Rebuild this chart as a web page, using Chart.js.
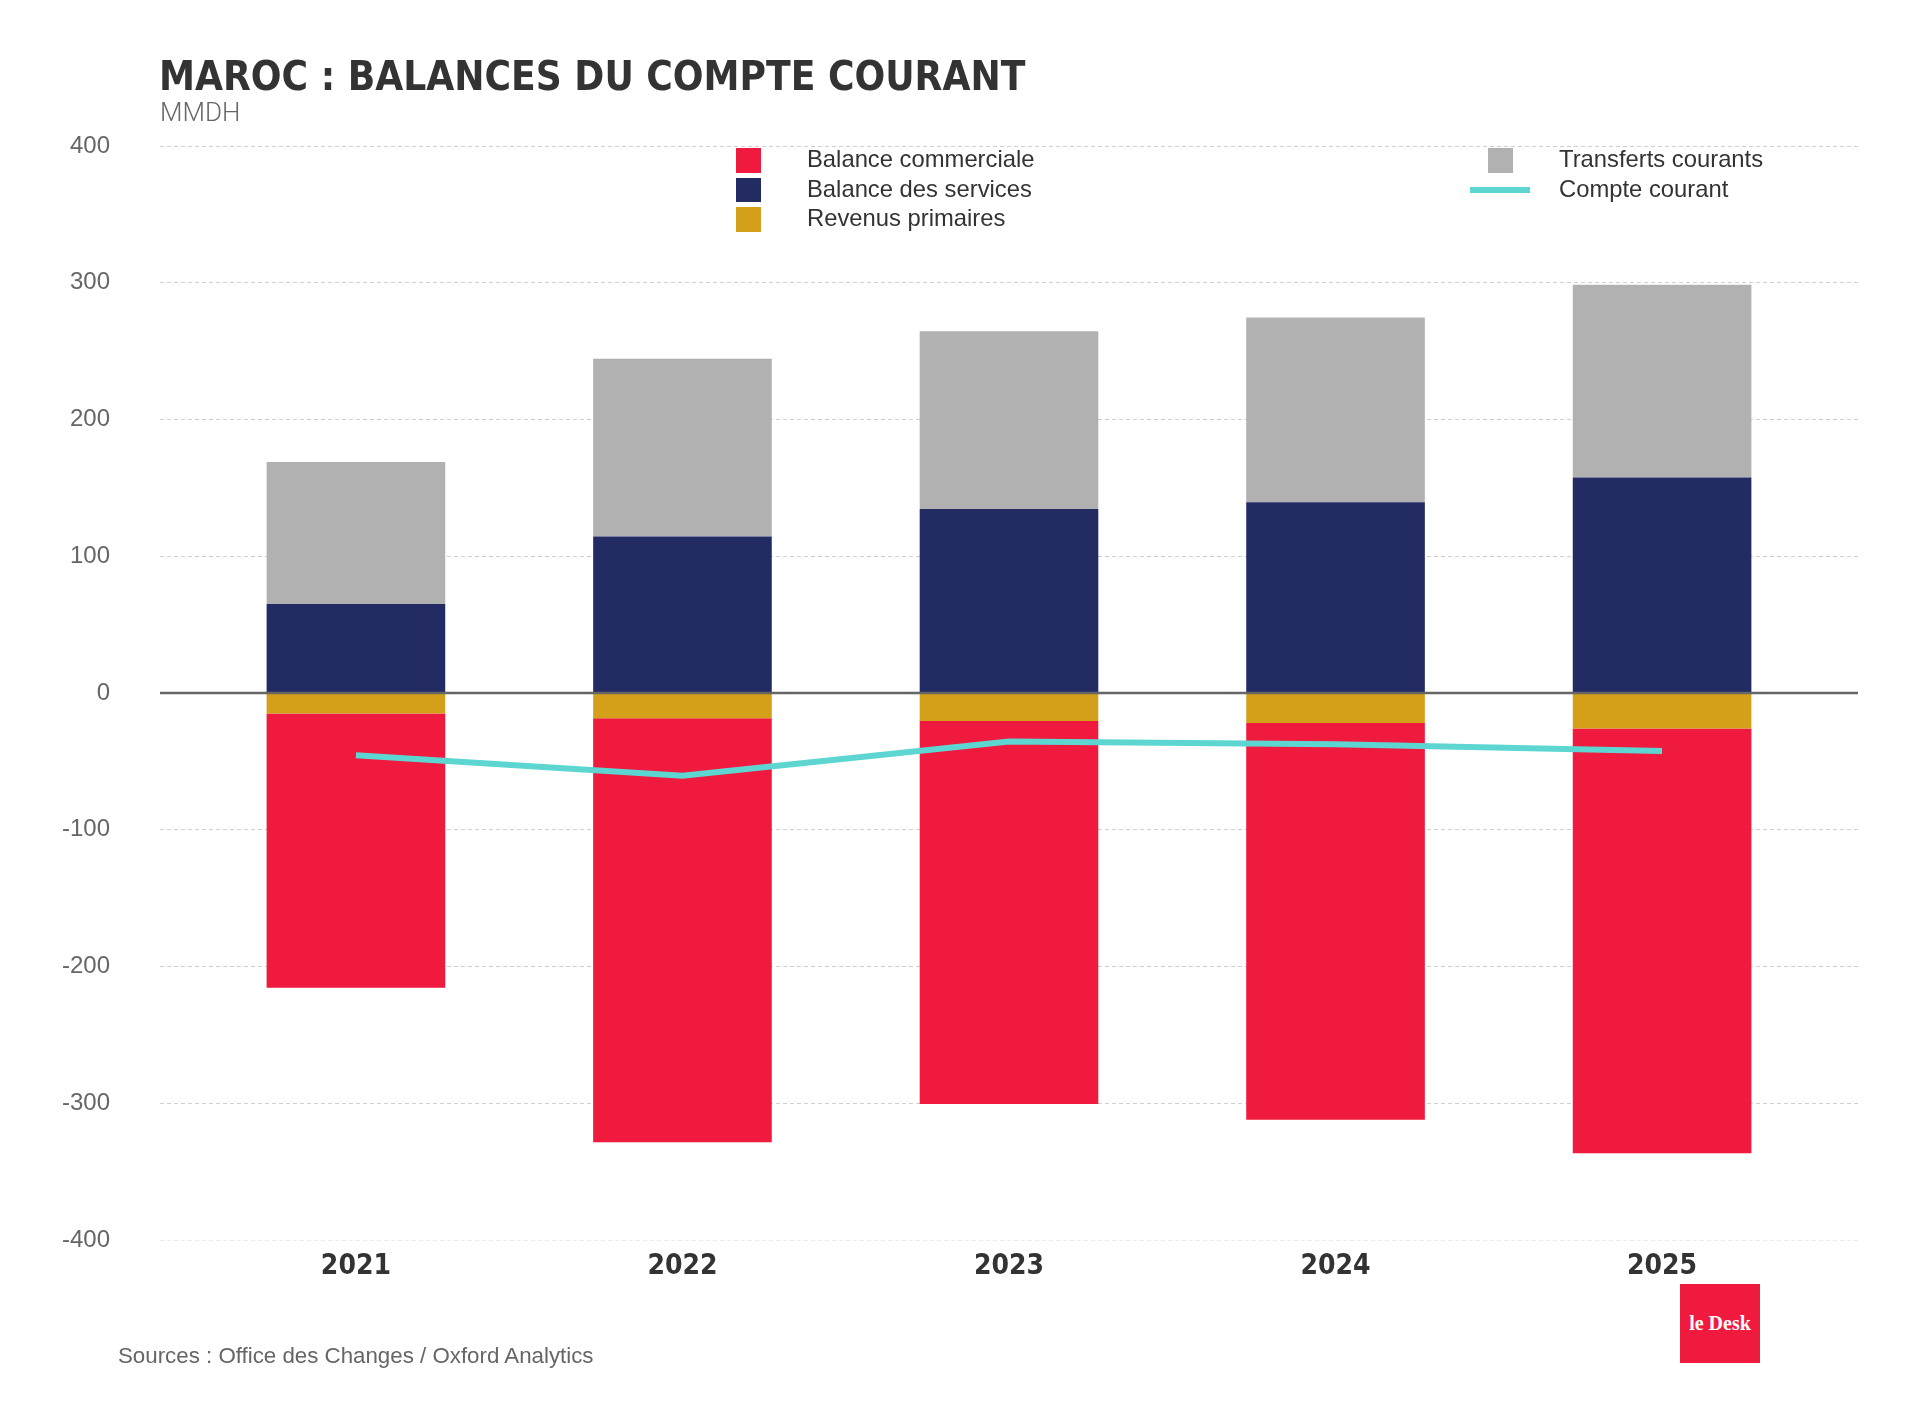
<!DOCTYPE html>
<html>
<head>
<meta charset="utf-8">
<script src="https://cdn.jsdelivr.net/npm/chart.js@4.4.1/dist/chart.umd.min.js"></script>
<style>
body { margin: 0; background: #fff; }
#wrap { position: relative; width: 1919px; height: 1428px; overflow: hidden; }
#c { position: absolute; left: 0; top: 0; }
.title { position: absolute; left: 159px; top: 55.5px; font: bold 40.2px "DejaVu Sans Condensed", "DejaVu Sans"; font-stretch: condensed; color: #333; line-height: 1; white-space: nowrap; }
.subtitle { position: absolute; left: 160px; top: 99px; font: 300 26px Roboto; color: #666; line-height: 1; }
.source { position: absolute; left: 118px; top: 1345px; font: 22.3px "Liberation Sans"; color: #666; line-height: 1; white-space: nowrap; }
.logo { position: absolute; left: 1680px; top: 1284px; width: 80px; height: 79px; background: #EF1A3D; color: #fff;
        font: bold 20px "Liberation Serif"; line-height: 79px; text-align: center; }
.lcol { position: absolute; top: 143px; }
.lrow { position: relative; height: 29.7px; line-height: 29.7px; font: 23.8px "Liberation Sans"; color: #333; white-space: nowrap; }
.lsym { position: absolute; }
.ltxt { position: absolute; left: 89px; top: 2px; }
</style>
</head>
<body>
<div id="wrap">
  <canvas id="c" width="1919" height="1428"></canvas>
  <div class="title">MAROC : BALANCES DU COMPTE COURANT</div>
  <div class="subtitle">MMDH</div>
  <div id="legend"></div>
  <div class="source">Sources : Office des Changes / Oxford Analytics</div>
  <div class="logo">le Desk</div>
</div>
<script>
// valeurs (MMDH)
var years = [2021, 2022, 2023, 2024, 2025];
var commerciale = [-200.5, -310, -280, -290, -310.5];
var services = [65, 114.5, 134.5, 139.5, 157.5];
var primaires = [-15, -18.5, -20.5, -22, -26];
var transferts = [104, 130, 130, 135, 141];
var compteCourant = [-45.5, -60.5, -35.5, -37.5, -42.5];
var yTicks = [-400, -300, -200, -100, 0, 100, 200, 300, 400];

var legendCols = [
    ["Balance commerciale", "Balance des services", "Revenus primaires"],
    ["Transferts courants", "Compte courant"]
];
var legendLefts = [718, 1470];

function pts(vals) {
    return vals.map(function (v, i) { return { x: years[i], y: v }; });
}

var zeroLine = {
    id: 'zeroLine',
    afterDatasetsDraw: function (chart) {
        var y = chart.scales.y.getPixelForValue(0);
        var a = chart.chartArea;
        var c = chart.ctx;
        c.save();
        c.strokeStyle = '#666';
        c.lineWidth = 2.5;
        c.beginPath();
        c.moveTo(a.left, y);
        c.lineTo(a.right, y);
        c.stroke();
        c.restore();
    }
};

var ctx = document.getElementById("c").getContext("2d");
var chart = new Chart(ctx, {
    type: 'bar',
    data: {
        datasets: [
            { type: 'line', label: "Compte courant", data: pts(compteCourant), borderColor: "#5DD6D2",
              borderWidth: 6, pointRadius: 0, fill: false, tension: 0, order: 0 },
            { label: "Revenus primaires", data: pts(primaires), backgroundColor: "#D4A01A", order: 1 },
            { label: "Balance des services", data: pts(services), backgroundColor: "#232B63", order: 1 },
            { label: "Balance commerciale", data: pts(commerciale), backgroundColor: "#EF1A3D", order: 1 },
            { label: "Transferts courants", data: pts(transferts), backgroundColor: "#B1B1B1", order: 1 }
        ]
    },
    options: {
        responsive: false,
        animation: false,
        devicePixelRatio: 1,
        layout: { padding: { left: 0, right: 61, top: 146, bottom: 108 } },
        datasets: { bar: { barPercentage: 0.547, categoryPercentage: 1 } },
        plugins: { legend: { display: false }, tooltip: { enabled: false } },
        scales: {
            x: {
                type: 'linear',
                stacked: true,
                offset: false,
                min: 2020.4,
                max: 2025.6,
                afterBuildTicks: function (s) { s.ticks = years.map(function (y) { return { value: y }; }); },
                ticks: {
                    callback: function (v) { return String(v); },
                    font: { family: "'DejaVu Sans Condensed', 'DejaVu Sans'", size: 28, weight: 'bold' },
                    color: '#333',
                    padding: 10
                },
                grid: { display: false, drawTicks: false, offset: false },
                border: { display: false },
                afterFit: function (s) { s.height = 80; }
            },
            y: {
                stacked: true,
                min: -400,
                max: 400,
                afterBuildTicks: function (s) { s.ticks = yTicks.map(function (v) { return { value: v }; }); },
                ticks: { font: { family: 'Liberation Sans', size: 24 }, color: '#666', padding: 50 },
                grid: {
                    drawTicks: false,
                    lineWidth: 1,
                    color: function (c) {
                        if (!c.tick) return '#cfcfcf';
                        if (c.tick.value === 0) return 'rgba(0,0,0,0)';
                        if (c.tick.value === -400) return '#ececec';
                        return '#cfcfcf';
                    }
                },
                border: { display: false, dash: [4, 3] },
                afterFit: function (s) { s.width = 160; }
            }
        }
    },
    plugins: [zeroLine]
});

// légende en deux colonnes, construite depuis les datasets
var legend = document.getElementById("legend");
legendCols.forEach(function (col, ci) {
    var colDiv = document.createElement("div");
    colDiv.className = "lcol";
    colDiv.style.left = legendLefts[ci] + "px";
    col.forEach(function (name) {
        var ds = chart.data.datasets.filter(function (d) { return d.label === name; })[0];
        var row = document.createElement("div");
        row.className = "lrow";
        var sym = document.createElement("div");
        sym.className = "lsym";
        if (ds.type === 'line') {
            sym.style.left = "0px"; sym.style.top = "14.5px";
            sym.style.width = "60px"; sym.style.height = "6px";
            sym.style.background = ds.borderColor;
        } else {
            sym.style.left = "18px"; sym.style.top = "5px";
            sym.style.width = "24.5px"; sym.style.height = "24.5px";
            sym.style.background = ds.backgroundColor;
        }
        var txt = document.createElement("div");
        txt.className = "ltxt";
        txt.textContent = name;
        row.appendChild(sym);
        row.appendChild(txt);
        colDiv.appendChild(row);
    });
    legend.appendChild(colDiv);
});
</script>
</body>
</html>
